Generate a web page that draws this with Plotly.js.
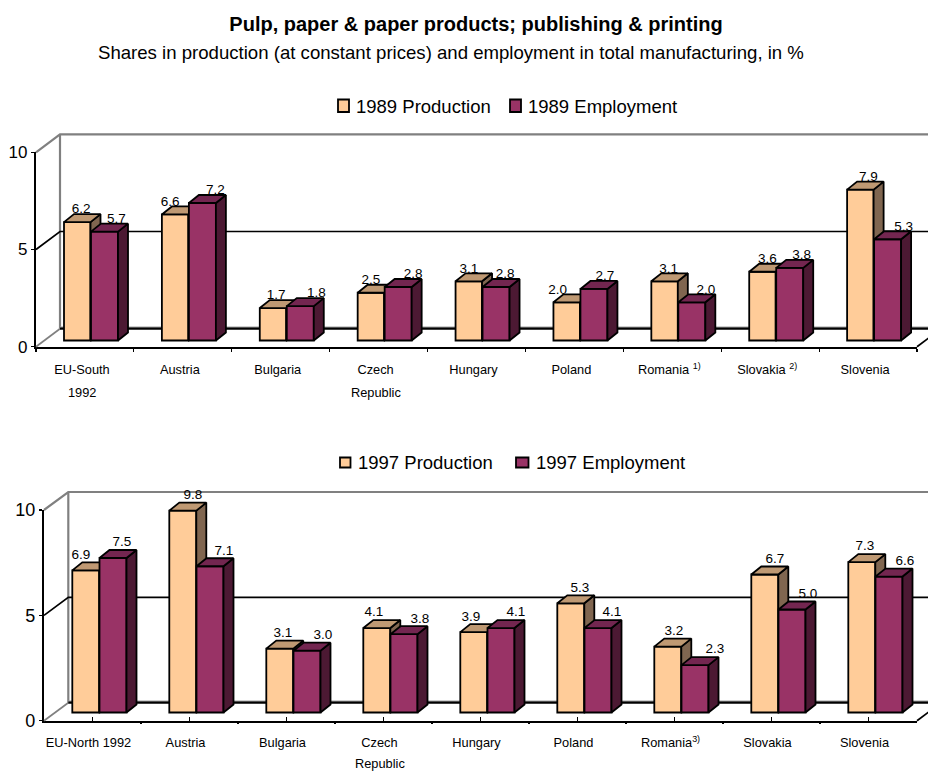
<!DOCTYPE html>
<html>
<head>
<meta charset="utf-8">
<script src="https://cdn.plot.ly/plotly-3.0.1.min.js"></script>
<style>html,body{margin:0;padding:0;background:#fff;overflow:hidden}</style>
</head>
<body>
<div id="chart" style="width:928px;height:771px"></div>
<script>
const labels1989 = ['EU-South', 'Austria', 'Bulgaria', 'Czech', 'Hungary', 'Poland', 'Romania <sup>1)</sup>', 'Slovakia <sup>2)</sup>', 'Slovenia'];
const second1989 = ['1992', '', '', 'Republic', '', '', '', '', ''];
const production1989 = [6.2, 6.6, 1.7, 2.5, 3.1, 2.0, 3.1, 3.6, 7.9];
const employment1989 = [5.7, 7.2, 1.8, 2.8, 2.8, 2.7, 2.0, 3.8, 5.3];
const labels1997 = ['EU-North 1992', 'Austria', 'Bulgaria', 'Czech', 'Hungary', 'Poland', 'Romania<sup>3)</sup>', 'Slovakia', 'Slovenia'];
const second1997 = ['', '', '', 'Republic', '', '', '', '', ''];
const production1997 = [6.9, 9.8, 3.1, 4.1, 3.9, 5.3, 3.2, 6.7, 7.3];
const employment1997 = [7.5, 7.1, 3.0, 3.8, 4.1, 4.1, 2.3, 5.0, 6.6];
const prodShift1989 = [4, -5, 3, 0, 0, -9, 4, 5, 8];
const empShift1989 = [12, 13, 16, 15, 9, 11, 14, 12, 16];
const prodShift1997 = [-5, 10, 3, -3, -3, 9, 6, 10, 3];
const empShift1997 = [9, 14, 16, 16, 15, 14, 20, 16, 16];

const W = 928, H = 771;
const PROD = {front: '#FFCC99', top: '#BF9973', side: '#806650'};
const EMP = {front: '#993366', top: '#732650', side: '#4C1933'};
const FONT = 'Liberation Sans, Arial, sans-serif';
const traces = [];
const layout = {
  width: W, height: H, margin: {l: 0, r: 0, t: 0, b: 0, pad: 0}, autosize: false,
  paper_bgcolor: '#fff', plot_bgcolor: 'rgba(0,0,0,0)', barmode: 'overlay', showlegend: false, hovermode: false,
  title: {text: '<b>Pulp, paper &amp; paper products; publishing &amp; printing</b>', x: 476 / W, xanchor: 'center', y: 1 - 24 / H, yanchor: 'middle',
    font: {family: FONT, size: 20, color: '#000'}},
  annotations: [{text: 'Shares in production (at constant prices) and employment in total manufacturing, in %',
    xref: 'paper', yref: 'paper', x: 451 / W, y: 1 - 53 / H, xanchor: 'center', yanchor: 'middle', showarrow: false,
    font: {family: FONT, size: 18.6, color: '#000'}}],
  shapes: []
};

function legendItem(swatch, color, textX, yMid, text) {
  layout.shapes.push({type: 'rect', xref: 'paper', yref: 'paper', x0: swatch[0] / W, x1: swatch[1] / W, y0: 1 - swatch[2] / H, y1: 1 - swatch[3] / H,
    fillcolor: color, line: {color: '#000', width: 1.8}});
  layout.annotations.push({text, xref: 'paper', yref: 'paper', x: textX / W, y: 1 - yMid / H, xanchor: 'left', yanchor: 'middle', showarrow: false,
    xshift: -1, font: {family: FONT, size: 18.5, color: '#000'}});
}

function chart(o) {
  const base = o.n * 4;
  const xVis = base === 0 ? 'x' : 'x3', xPlot = base === 0 ? 'x2' : 'x4';
  const yIds = [1, 2, 3, 4].map(k => 'y' + (base + k === 1 ? '' : base + k));
  const key = id => id[0] + 'axis' + id.slice(1);
  const unit = (o.x1 - o.x0) / 9;
  const gridScale = (o.y0 - o.y10) / 10;
  const toFrac = px => 1 - px / H;
  const xRange = [-o.x0 / unit, (W - o.x0) / unit];
  const yDom = [toFrac(o.plotBottom), toFrac(o.plotTop)];
  const gridRange = [(o.y0 - o.plotBottom) / gridScale, (o.y0 - o.plotTop) / gridScale];
  const barRange = [(o.base - o.plotBottom) / o.barScale, (o.base - o.plotTop) / o.barScale];

  // visible axes
  layout[key(xVis)] = {
    domain: [o.x0 / W, o.x1 / W], range: [0, 9], anchor: yIds[0], showgrid: false, zeroline: false,
    showline: true, linecolor: '#000', linewidth: 2.2,
    tickmode: 'array', tickvals: o.labels.map((_, i) => i + 0.5), ticktext: o.labels, tickangle: 0,
    ticks: o.centerTicks ? 'inside' : '', ticklen: o.centerTicks ? 4 : 0, tickwidth: 1.2, tickcolor: '#000',
    ticklabelshift: o.tickShift, ticklabelstandoff: o.standoff,
    tickfont: {family: FONT, size: 12.8, color: '#000'},
    minor: {ticks: 'outside', ticklen: o.minorLen, tickwidth: 1.2, tickcolor: '#000', dtick: 1, tick0: 0, showgrid: false}
  };
  layout[key(yIds[0])] = {
    domain: [toFrac(o.y0), toFrac(o.y10)], range: [0, 10], anchor: xVis, showgrid: false, zeroline: false, showline: true, linecolor: '#000', linewidth: 2.2,
    tickmode: 'array', tickvals: [0, 5, 10], ticktext: ['0', '5', '10'], ticks: 'outside', ticklen: 3, tickwidth: 1.5, tickcolor: '#000',
    tickfont: {family: FONT, size: o.ySize, color: '#000'}
  };
  // hidden drawing axes on the same scale, wide enough not to clip the 3-D faces
  layout[key(xPlot)] = {domain: [0, 1], range: xRange, anchor: yIds[1], visible: false, showgrid: false, zeroline: false};
  layout[key(yIds[1])] = {domain: yDom, range: gridRange, anchor: xPlot, visible: false, showgrid: false, zeroline: false};
  [2, 3].forEach(k => {
    layout[key(yIds[k])] = {domain: yDom, range: barRange, anchor: xPlot, overlaying: yIds[1], visible: false, showgrid: false, zeroline: false};
  });

  // walls and gridlines
  const wx = o.wallX / unit, wy = o.wallY / gridScale, far = xRange[1] + 1;
  const wall = (xs, ys, color, width) => traces.push({type: 'scatter', mode: 'lines', x: xs, y: ys, xaxis: xPlot, yaxis: yIds[1],
    line: {color, width}, showlegend: false, hoverinfo: 'skip'});
  wall([0, wx, far], [10, 10 + wy, 10 + wy], '#808080', 2.2);
  wall([wx, wx], [10 + wy, wy], '#808080', 2.2);
  wall([0, wx, far], [5, 5 + wy, 5 + wy], '#000', 1.7);
  wall([0, wx], [0, wy], '#808080', 1.7);
  wall([wx, far], [wy + 0.07, wy + 0.07], '#a0a0a0', 1.7);
  wall([wx, far], [wy, wy], '#000', 2.2);
  wall([9, 9 + wx], [0, wy], '#000', 1.7);

  // bars with their tops and sides
  const series = [
    {vals: o.prod, col: PROD, off: o.prodOff, w: o.prodW, shift: o.prodShift, name: o.year + ' Production', yid: yIds[2]},
    {vals: o.emp, col: EMP, off: o.empOff, w: o.empW, shift: o.empShift, name: o.year + ' Employment', yid: yIds[3]}];
  series.forEach(s => {
    const dx = o.depthX / unit, dy = o.depthY / o.barScale, off = s.off / unit, w = s.w / unit;
    traces.push({type: 'bar', name: s.name, x: s.vals.map((_, i) => i), y: s.vals, offset: off, width: w, xaxis: xPlot, yaxis: s.yid,
      marker: {color: s.col.front, line: {color: '#000', width: 1.8}}, hoverinfo: 'skip', showlegend: false});
    const sx = [], sy = [], tx = [], ty = [];
    s.vals.forEach((v, i) => {
      const a = i + off, b = a + w;
      sx.push(b, b + dx, b + dx, b, b, null); sy.push(0, dy, v + dy, v, 0, null);
      tx.push(a, a + dx, b + dx, b, a, null); ty.push(v, v + dy, v + dy, v, v, null);
    });
    [[sx, sy, s.col.side], [tx, ty, s.col.top]].forEach(([xs, ys, c]) => traces.push({
      type: 'scatter', mode: 'lines', x: xs, y: ys, xaxis: xPlot, yaxis: s.yid, fill: 'toself', fillcolor: c,
      line: {color: '#000', width: 1.8}, showlegend: false, hoverinfo: 'skip'}));
    traces.push({type: 'scatter', mode: 'text', xaxis: xPlot, yaxis: s.yid, showlegend: false, hoverinfo: 'skip',
      x: s.vals.map((_, i) => i + off + w / 2 + s.shift[i] / unit),
      y: s.vals.map(v => v + o.labelUp / o.barScale),
      text: s.vals.map(v => v.toFixed(1)), textposition: 'middle center',
      textfont: {family: FONT, size: 13.5, color: '#000'}});
  });

  o.second.forEach((t, i) => { if (t) layout.annotations.push({text: t, xref: xVis, yref: 'paper', x: i + 0.5 + o.tickShift / unit,
    y: 1 - o.secondY / H, xanchor: 'center', yanchor: 'middle', showarrow: false, font: {family: FONT, size: 12.8, color: '#000'}}); });

  o.legend.forEach((l, i) => legendItem(l.swatch, series[i].col.front, l.textX, o.legendY, series[i].name));
}

chart({n: 0, year: 1989, labels: labels1989, second: second1989, prod: production1989, emp: employment1989,
  prodShift: prodShift1989, empShift: empShift1989, x0: 36, x1: 917, y0: 346.7, y10: 152.3, base: 340.5, barScale: 19.1,
  plotTop: 120, plotBottom: 350,
  wallX: 24, wallY: 18, depthX: 10, depthY: 8, prodOff: 28, prodW: 26.5, empOff: 55, empW: 27, labelUp: 12,
  centerTicks: false, minorLen: 3, tickShift: -3, standoff: 10, secondY: 392, ySize: 17, legendY: 106.5,
  legend: [{swatch: [338, 349, 99.5, 112], textX: 355}, {swatch: [510, 521, 99.5, 112], textX: 527}]});
chart({n: 1, year: 1997, labels: labels1997, second: second1997, prod: production1997, emp: employment1997,
  prodShift: prodShift1997, empShift: empShift1997, x0: 44, x1: 917, y0: 720.7, y10: 510, base: 712.5, barScale: 20.6,
  plotTop: 480, plotBottom: 725,
  wallX: 24.3, wallY: 18, depthX: 10, depthY: 8, prodOff: 28.3, prodW: 27, empOff: 55.5, empW: 27, labelUp: 15,
  centerTicks: true, minorLen: 1.5, tickShift: -4, standoff: 9, secondY: 763, ySize: 18, legendY: 462.5,
  legend: [{swatch: [340, 350.5, 457.5, 467.5], textX: 357}, {swatch: [516, 528.5, 457.5, 467.5], textX: 535}]});

Plotly.newPlot('chart', traces, layout, {staticPlot: true, displayModeBar: false});
</script>
</body>
</html>
